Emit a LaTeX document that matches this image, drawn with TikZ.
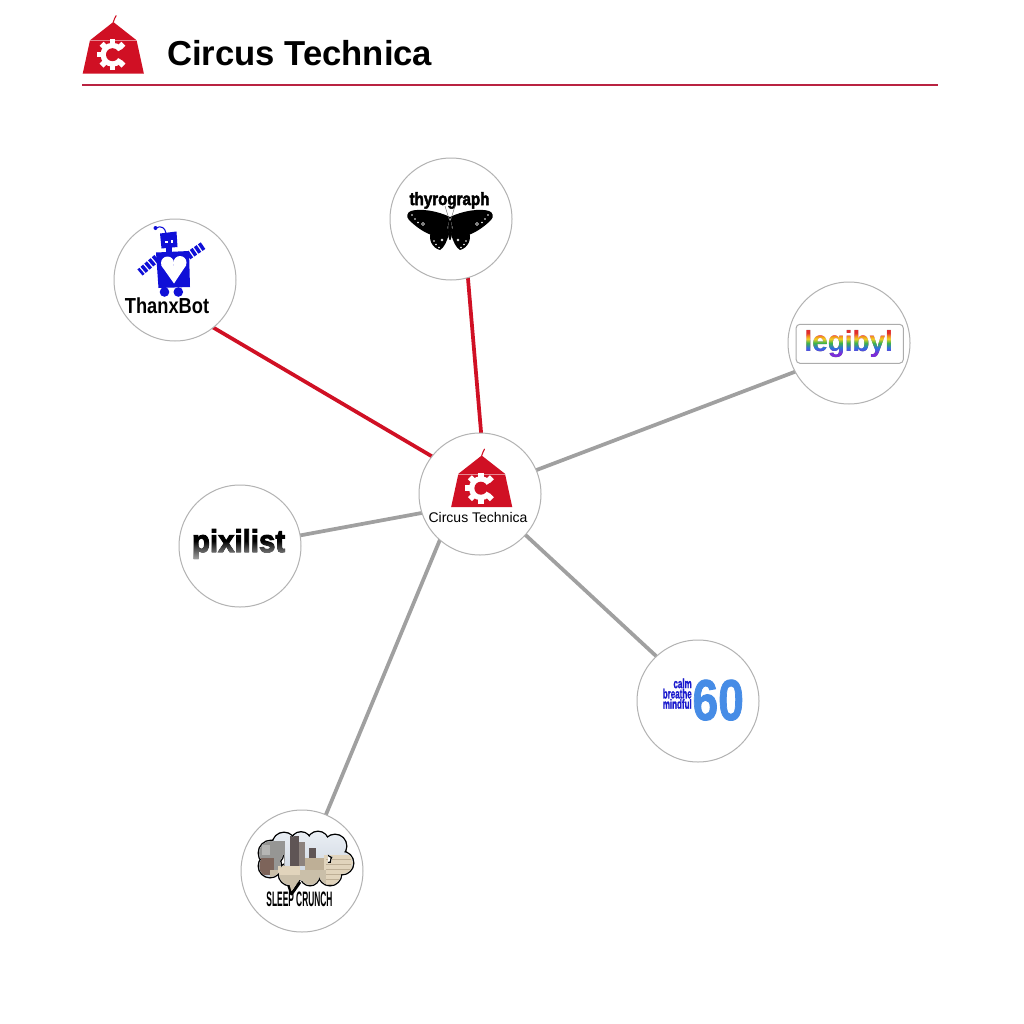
\documentclass[tikz,border=0pt]{standalone}
\usepackage{fontspec}
\usepackage{graphicx}
\setmainfont{Liberation Sans}
\newfontfamily\heavyfont[FakeBold=1.5]{Liberation Sans}
\newfontfamily\xheavyfont[FakeBold=3]{Liberation Sans}
\newcommand\calmfont{\heavyfont\bfseries\fontsize{10}{7.7}\selectfont\lineskiplimit=-20pt\relax\lineskip=0pt\relax}
\definecolor{ctred}{RGB}{208,16,36}
\definecolor{rulered}{RGB}{185,35,65}
\definecolor{edgegray}{RGB}{160,160,160}
\definecolor{circgray}{RGB}{178,178,178}
\definecolor{botblue}{RGB}{15,15,215}
\definecolor{calmblue}{RGB}{25,25,205}
\definecolor{sixtyblue}{RGB}{70,140,230}
\definecolor{rbred}{RGB}{225,45,45}
\definecolor{rborange}{RGB}{240,140,26}
\definecolor{rbyellow}{RGB}{240,205,36}
\definecolor{rbgreen}{RGB}{60,180,74}
\definecolor{rbblue}{RGB}{47,111,224}
\definecolor{rbpurple}{RGB}{125,45,215}
\definecolor{skytop}{RGB}{236,240,245}
\definecolor{skybot}{RGB}{198,208,220}
\definecolor{bgray}{RGB}{150,150,148}
\definecolor{bbrown}{RGB}{125,100,90}
\definecolor{bdark}{RGB}{95,85,85}
\definecolor{bmid}{RGB}{140,130,125}
\definecolor{btan}{RGB}{190,175,150}
\definecolor{bbeige}{RGB}{225,212,188}
\definecolor{pixlight}{RGB}{175,175,175}
\pgfdeclareverticalshading{rainbowshade}{100bp}{color(0bp)=(rbpurple); color(33bp)=(rbpurple); color(42bp)=(rbblue); color(50bp)=(rbgreen); color(57bp)=(rbyellow); color(62bp)=(rborange); color(67bp)=(rbred); color(100bp)=(rbred)}
\pgfdeclareverticalshading{pixshade}{100bp}{color(0bp)=(pixlight); color(27bp)=(pixlight); color(45bp)=(black!70); color(56bp)=(black); color(100bp)=(black)}
\pgfdeclarelayer{bg}
\pgfsetlayers{bg,main}
\tikzset{
  bub/.style={circle, draw=circgray, line width=0.75pt, fill=white, minimum size=91.5pt, inner sep=0pt},
  redlink/.style={draw=ctred, line width=2.8pt, shorten <=-3pt, shorten >=-3pt},
  graylink/.style={draw=edgegray, line width=2.8pt, shorten <=-3pt, shorten >=-3pt},
  lbl/.style={inner sep=0pt, outer sep=0pt},
  ctlogo/.pic={
    \fill[ctred] (0,0) -- (-23.3,-18.3) -- (-30.6,-51.7) -- (30.6,-51.7) -- (23.3,-18.3) -- cycle;
    \draw[ctred, line width=0.8pt, line cap=round] (0,0) .. controls (1,3) and (2,5) .. (2.8,6.3);
    \draw[white, opacity=0.5, line width=0.4pt] (-23.3,-18.3) -- (23.3,-18.3);
    \begin{scope}[shift={(-0.8,-32.7)}]
      \fill[white] (0,0) circle[radius=12];
      \foreach \a in {45,90,135,180,225,270,315}
        \fill[white, rotate=\a] (9,-2.8) rectangle (15.5,2.8);
      \fill[ctred] (0,0) circle[radius=6.5];
      \fill[ctred] (0,0) -- (-30:17) arc[start angle=-30, end angle=30, radius=17] -- cycle;
    \end{scope}
  },
  bflyhalf/.pic={
    \fill[black] (0,-217) .. controls (-12,-211) and (-30,-208) .. (-39,-211)
      .. controls (-43,-212) and (-44,-217) .. (-41,-220)
      .. controls (-34,-227) and (-24,-234) .. (-15,-236) -- (-3,-229) -- cycle;
    \fill[black] (-3,-226) -- (-19,-232) .. controls (-22,-239) and (-18,-248) .. (-10,-250)
      .. controls (-6,-248) and (-3,-241) .. (-1,-234) -- cycle;
    \foreach \p in {(-38,-215),(-35,-219),(-32,-222.5),(-16,-241),(-14,-244.5),(-11,-247.5)}
      \fill[white] \p circle[radius=0.9];
    \draw[white, line width=0.5pt] (-27,-224) circle[radius=1.5];
    \draw[white, line width=0.4pt] (-8,-240) circle[radius=1.1];
    \draw[black!60, line width=0.3pt] (-1,-219) -- (-5,-206);
    \fill[black] (0,-230) ellipse[x radius=1.8, y radius=10];
  }
}
\begin{document}
\begin{tikzpicture}[x=0.75pt,y=0.75pt]
\useasboundingbox (0,0) rectangle (1024,-1024);
% header
\pic at (113.3,-22) {ctlogo};
\node[lbl, anchor=base west, font=\bfseries\fontsize{26}{30}\selectfont] (title) at (167,-65) {Circus Technica};
\draw[rulered, line width=0.9pt] (82,-85) -- (938,-85);
% bubbles
\node[bub] (hub) at (480,-494) {};
\node[bub] (thanx) at (175,-280) {};
\node[bub] (thyro) at (451,-219) {};
\node[bub] (legi) at (849,-343) {};
\node[bub] (pixi) at (240,-546) {};
\node[bub] (calm) at (698,-701) {};
\node[bub] (sleep) at (302,-871) {};
\begin{pgfonlayer}{bg}
\fill[white] (0,0) rectangle (1024,-1024);
\draw[redlink] (hub.142) -- (thanx.-51);
\draw[redlink] (hub.89) -- (thyro.-74);
\draw[graylink] (hub.23) -- (legi.-152);
\draw[graylink] (hub.-162) -- (pixi.10);
\draw[graylink] (hub.-42) -- (calm.133);
\draw[graylink] (hub.-131) -- (sleep.67);
\end{pgfonlayer}
% hub content
\pic at (481.7,-455.5) {ctlogo};
\node[lbl, anchor=base, font=\fontsize{10.5}{12}\selectfont] (hubtxt) at (478,-522.3) {Circus Technica};
% ThanxBot
\draw[botblue, line width=0.8pt] (156,-228) .. controls (161,-225) and (165,-228) .. (166,-233);
\fill[botblue] (155.5,-228) circle[radius=2];
\fill[botblue] (160,-233.5) -- (176.5,-231.5) -- (177.5,-247) -- (161.5,-248.5) -- cycle;
\fill[white] (165,-240.5) rectangle (167.5,-243);
\fill[white] (170.5,-240) rectangle (173,-242.5);
\fill[botblue] (166,-247) rectangle (172,-253);
\fill[botblue] (156,-252.5) -- (189,-251) -- (190,-287) -- (158.5,-288) -- cycle;
\fill[white] (167.5,-263) circle[radius=6.5];
\fill[white] (180,-262.5) circle[radius=6.5];
\fill[white] (161.3,-265.5) -- (186.3,-265) -- (174,-283.5) -- cycle;
\draw[botblue, line width=6pt, dash pattern=on 2.6pt off 1.1pt] (157,-258) -- (140,-272.5);
\draw[botblue, line width=6pt, dash pattern=on 2.6pt off 1.1pt] (188,-256) -- (204,-245);
\fill[botblue] (164.5,-292) circle[radius=4.8];
\fill[botblue] (178.3,-292) circle[radius=4.8];
\node[lbl, anchor=base, font=\bfseries\fontsize{16.3}{18}\selectfont] (thanxtxt) at (167,-313.3) {\scalebox{0.84}[1]{ThanxBot}};
% thyrograph
\node[lbl, anchor=base, font=\xheavyfont\bfseries\fontsize{13.2}{15}\selectfont] (thyrotxt) at (449.5,-205) {\scalebox{0.86}[1]{thyrograph}};
\pic at (450,0) {bflyhalf};
\pic[xscale=-1] at (450,0) {bflyhalf};
% legibyl
\node[draw=gray!65, line width=0.75pt, rounded corners=3pt, minimum width=80.5pt, minimum height=29.3pt, inner sep=0pt] (legibox) at (849.7,-343.8) {};
\node[lbl, anchor=base west, font=\bfseries\fontsize{21.8}{24}\selectfont] (legitxt) at (804.5,-351) {\scalebox{0.96}[1]{legibyl}};
\shade[shading=rainbowshade, blend mode=lighten] (803,-328) rectangle (896,-358);
% pixilist
\node[lbl, anchor=base west, font=\xheavyfont\bfseries\fontsize{22.5}{24}\selectfont] (pixitxt) at (192,-552) {\scalebox{0.98}[1.05]{pixilist}};
\shade[shading=pixshade, blend mode=lighten] (188,-528) rectangle (298,-562);
% calm breathe mindful 60
\node[lbl, anchor=south east, align=right, text=calmblue, xscale=0.6, transform shape, font=\calmfont] (calmt) at (691.7,-708.8) {calm\\breathe\\mindful};
\node[lbl, anchor=base west, text=sixtyblue, font=\heavyfont\bfseries\fontsize{43.3}{48}\selectfont] (sixty) at (692.5,-720) {\scalebox{0.8}[1]{60}};
% sleep crunch
\draw[black, line width=2.2pt] (271,-853) circle[radius=12] (284,-844) circle[radius=11] (301,-842) circle[radius=9.5] (318,-842) circle[radius=10] (335,-846) circle[radius=11] (342,-863) circle[radius=11] (330,-874) circle[radius=11] (310,-876) circle[radius=9] (290,-874) circle[radius=11] (270,-866) circle[radius=11];
\draw[black, line width=2.2pt, line join=round] (287,-880) -- (291.5,-894) -- (300,-882);
\fill[skybot] (271,-853) circle[radius=12] (284,-844) circle[radius=11] (301,-842) circle[radius=9.5] (318,-842) circle[radius=10] (335,-846) circle[radius=11] (342,-863) circle[radius=11] (330,-874) circle[radius=11] (310,-876) circle[radius=9] (290,-874) circle[radius=11] (270,-866) circle[radius=11] (306,-859) circle[radius=22];
\begin{scope}
\clip (271,-853) circle[radius=12] (284,-844) circle[radius=11] (301,-842) circle[radius=9.5] (318,-842) circle[radius=10] (335,-846) circle[radius=11] (342,-863) circle[radius=11] (330,-874) circle[radius=11] (310,-876) circle[radius=9] (290,-874) circle[radius=11] (270,-866) circle[radius=11] (306,-859) circle[radius=22];
\shade[top color=skytop, bottom color=skybot] (255,-828) rectangle (356,-888);
\fill[bgray] (259,-841) rectangle (285,-872);
\fill[bgray!70!white] (262,-845) rectangle (270,-855);
\fill[bbrown] (260,-858) rectangle (274,-875);
\fill[bdark] (290,-836) rectangle (299,-870);
\fill[bmid] (299,-842) rectangle (305,-866);
\fill[bdark] (309,-848) rectangle (316,-866);
\fill[btan] (305,-858) rectangle (324,-880);
\fill[bbeige] (324,-855) rectangle (353,-887);
\foreach \yy in {859,864,...,884} \draw[btan, line width=0.5pt] (326,-\yy) -- (351,-\yy);
\fill[bbeige!90!black] (270,-870) rectangle (326,-888);
\fill[bbeige] (278,-866) rectangle (300,-875);
\end{scope}
\fill[bbeige!90!black] (288.3,-880) -- (291.4,-891.3) -- (298.6,-881) -- cycle;
\node[lbl, anchor=base, font=\bfseries\fontsize{15.7}{18}\selectfont] (sleeptxt) at (299.5,-906) {\scalebox{0.40}[1]{SLEEP CRUNCH}};
\end{tikzpicture}
\end{document}
